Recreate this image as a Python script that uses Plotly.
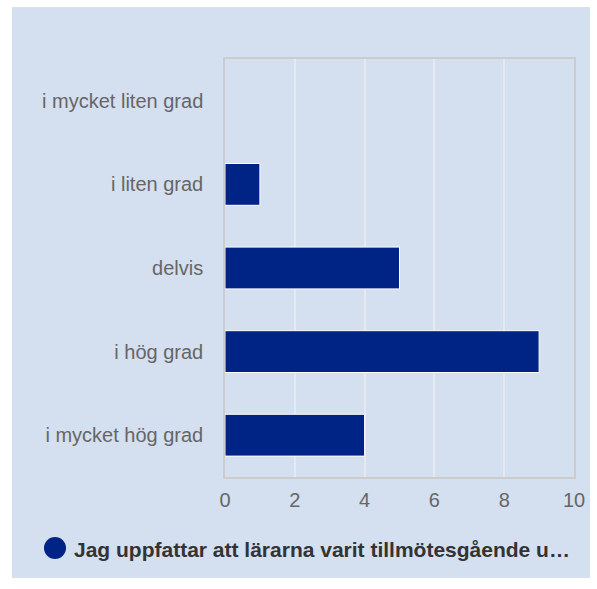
import plotly.graph_objects as go

# data
categories = ['i mycket liten grad', 'i liten grad', 'delvis', 'i hög grad', 'i mycket hög grad']
values = [0, 1, 5, 9, 4]
series_name = 'Jag uppfattar att lärarna varit tillmötesgående u…'
x_ticks = [0, 2, 4, 6, 8, 10]

BG = '#d4dff0'
NAVY = '#002486'
FONT = 'Liberation Sans, Arial, sans-serif'
W, H = 597, 589
L, R, T, B = 225, 23, 59, 112

fig = go.Figure()
fig.add_trace(go.Bar(
    x=values, y=categories, orientation='h',
    marker=dict(color=NAVY, line=dict(color='white', width=[1 if v else 0 for v in values])),
    showlegend=False, name=series_name,
))

pw, ph = W - L - R, H - T - B


def px(x):
    return (x - L) / pw


def py(y):
    return (H - B - y) / ph


# light blue panel behind everything
fig.add_shape(type='rect', xref='paper', yref='paper',
              x0=px(12), x1=px(590), y0=py(578), y1=py(7),
              fillcolor=BG, line=dict(width=0), layer='below')

# hand-made legend (big round marker)
fig.add_shape(type='circle', xref='paper', yref='paper',
              x0=px(44), x1=px(66), y0=py(559), y1=py(537),
              fillcolor=NAVY, line=dict(width=0))
fig.add_annotation(text='<b>' + series_name + '</b>', xref='paper', yref='paper',
                   x=px(72), y=py(549), xanchor='left', yanchor='middle',
                   showarrow=False, font=dict(size=21, color='#333333', family=FONT))

fig.update_layout(
    width=W, height=H,
    margin=dict(l=L, r=R, t=T, b=B),
    paper_bgcolor='white', plot_bgcolor=BG,
    bargap=0.5,
    font=dict(family=FONT, size=20, color='#666666'),
    xaxis=dict(range=[0, 10], tickvals=x_ticks, showgrid=True, gridcolor='#e6e9ef',
               gridwidth=1.5, zeroline=False, showline=True, linecolor='#cccccc',
               linewidth=1.5, mirror=True, ticks='outside', ticklen=4,
               tickcolor='rgba(0,0,0,0)',
               tickfont=dict(size=20, color='#666666')),
    yaxis=dict(categoryorder='array', categoryarray=categories[::-1], showgrid=False,
               showline=True, linecolor='#cccccc', linewidth=1.5, mirror=True,
               ticks='outside', ticklen=16, tickcolor='rgba(0,0,0,0)',
               tickfont=dict(size=20, color='#666666')),
)

fig.write_html('out.html', config={'displayModeBar': False},
               post_script="document.body.style.margin='0';")
